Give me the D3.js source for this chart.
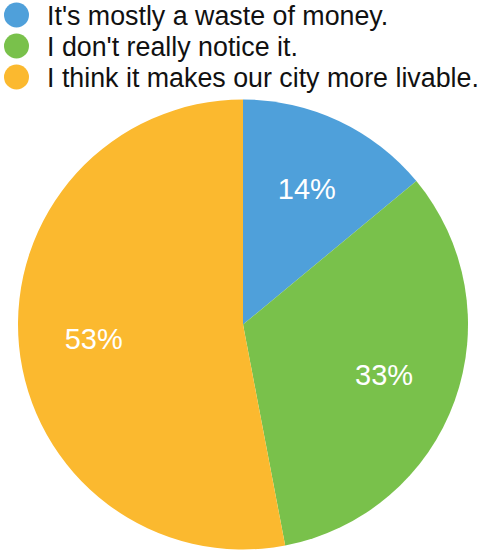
<!DOCTYPE html>
<html>
<head>
<meta charset="utf-8">
<script src="https://cdn.jsdelivr.net/npm/d3@7"></script>
<style>
  html, body { margin: 0; padding: 0; background: #fff; }
  svg { display: block; }
  text { font-family: "Liberation Sans", Arial, Helvetica, sans-serif; }
</style>
</head>
<body>
<svg id="chart" width="479" height="550"></svg>
<script>
const categories = ["It's mostly a waste of money.", "I don't really notice it.", "I think it makes our city more livable."];
const values = [14, 33, 53];
const colors = ["#4FA0DA", "#79C14B", "#FBB92F"];

const svg = d3.select("#chart");
const cx = 243, cy = 324.5, R = 225;

const color = d3.scaleOrdinal().domain(categories).range(colors);

const data = categories.map((c, i) => ({ cat: c, value: values[i] }));
const pie = d3.pie().value(d => d.value).sort(null);
const arcs = pie(data);
const arc = d3.arc().innerRadius(0).outerRadius(R);
const labelArc = d3.arc().innerRadius(150).outerRadius(150);

const g = svg.append("g").attr("transform", `translate(${cx},${cy})`);
g.selectAll("path").data(arcs).join("path")
  .attr("d", arc)
  .attr("fill", d => color(d.data.cat));

g.selectAll("text.lbl").data(arcs).join("text")
  .attr("class", "lbl")
  .attr("transform", d => { const c = labelArc.centroid(d); return `translate(${c[0]},${c[1] + 10})`; })
  .attr("text-anchor", "middle")
  .attr("fill", "#fff")
  .attr("font-size", 29)
  .text(d => d3.format(".0f")(d.value) + "%");

// legend
const legend = svg.append("g");
const y = d3.scalePoint().domain(categories).range([15, 77]);
const items = legend.selectAll("g").data(categories).join("g")
  .attr("transform", d => `translate(0,${y(d)})`);
items.append("circle").attr("cx", 16.5).attr("cy", 0).attr("r", 12.5).attr("fill", d => color(d));
items.append("text").attr("x", 47).attr("y", 10).attr("font-size", 26.8).attr("fill", "#111").text(d => d);
</script>
</body>
</html>
